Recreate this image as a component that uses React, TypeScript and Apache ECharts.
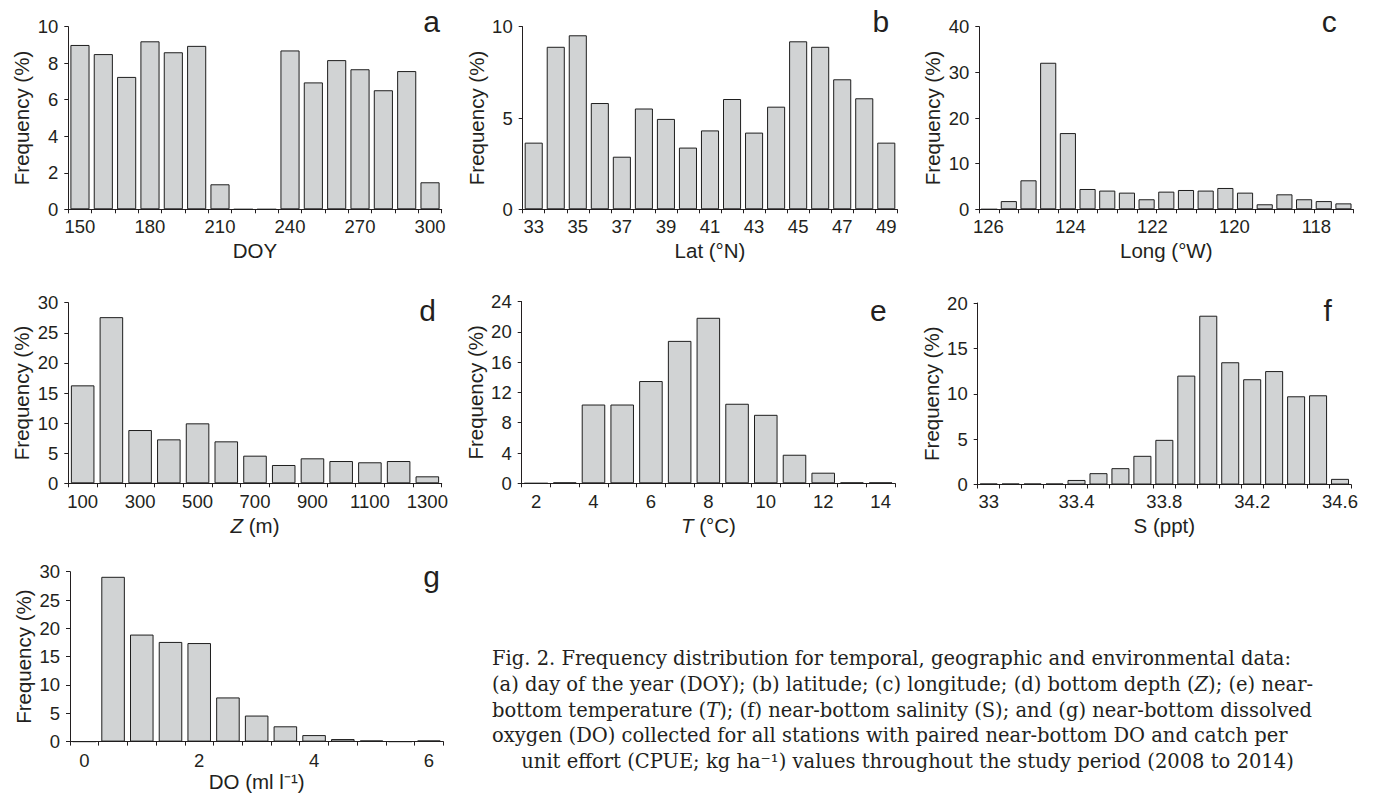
import { useEffect, useRef } from "react";
import * as echarts from "echarts";

// ---------- data ----------
const DOY_CATS = ["150", "160", "170", "180", "190", "200", "210", "220", "230", "240", "250", "260", "270", "280", "290", "300"];
const DOY_FREQ = [9.0, 8.5, 7.25, 9.2, 8.6, 8.95, 1.37, 0, 0, 8.7, 6.95, 8.17, 7.67, 6.52, 7.57, 1.48];

const LAT_CATS = ["33", "34", "35", "36", "37", "38", "39", "40", "41", "42", "43", "44", "45", "46", "47", "48", "49"];
const LAT_FREQ = [3.65, 8.9, 9.53, 5.82, 2.88, 5.52, 4.95, 3.38, 4.32, 6.04, 4.2, 5.62, 9.2, 8.9, 7.12, 6.08, 3.65];

const LONG_CATS = ["126", "125.5", "125", "124.5", "124", "123.5", "123", "122.5", "122", "121.5", "121", "120.5", "120", "119.5", "119", "118.5", "118", "117.5", "117"];
const LONG_FREQ = [0, 1.8, 6.35, 32.1, 16.7, 4.45, 4.1, 3.65, 2.2, 3.87, 4.23, 4.1, 4.67, 3.65, 1.1, 3.28, 2.2, 1.8, 1.3];
const LONG_TICKS = [126, 124, 122, 120, 118];

const DEPTH_CATS = ["100", "200", "300", "400", "500", "600", "700", "800", "900", "1000", "1100", "1200", "1300"];
const DEPTH_FREQ = [16.27, 27.6, 8.85, 7.3, 9.96, 6.97, 4.59, 3.04, 4.15, 3.7, 3.49, 3.7, 1.16];

const TEMP_CATS = ["2", "3", "4", "5", "6", "7", "8", "9", "10", "11", "12", "13", "14"];
const TEMP_FREQ = [0, 0.1, 10.4, 10.4, 13.5, 18.8, 21.85, 10.5, 9.04, 3.77, 1.4, 0.1, 0.1];

const SAL_CATS = ["33", "33.1", "33.2", "33.3", "33.4", "33.5", "33.6", "33.7", "33.8", "33.9", "34", "34.1", "34.2", "34.3", "34.4", "34.5", "34.6"];
const SAL_FREQ = [0.1, 0.1, 0.1, 0.1, 0.5, 1.25, 1.8, 3.16, 4.92, 12.0, 18.6, 13.47, 11.6, 12.5, 9.72, 9.83, 0.62];

const DO_CATS = ["0", "0.5", "1", "1.5", "2", "2.5", "3", "3.5", "4", "4.5", "5", "5.5", "6"];
const DO_FREQ = [0, 29.1, 18.9, 17.6, 17.4, 7.8, 4.6, 2.7, 1.15, 0.45, 0.2, 0, 0.2];

const CAPTION_LINES = [
  "Fig. 2. Frequency distribution for temporal, geographic and environmental data:",
  "(a) day of the year (DOY); (b) latitude; (c) longitude; (d) bottom depth ({i|Z}); (e) near-",
  "bottom temperature ({i|T}); (f) near-bottom salinity (S); and (g) near-bottom dissolved",
  "oxygen (DO) collected for all stations with paired near-bottom DO and catch per",
  "unit effort (CPUE; kg ha⁻¹) values throughout the study period (2008 to 2014)",
];

// ---------- style / layout ----------
const FONT = '"Liberation Sans", Arial, Helvetica, sans-serif';
const SERIF = '"DejaVu Serif", "Liberation Serif", serif';
const INK = "#231f20";
const BAR_FILL = "#d1d3d4";
const BAR_EDGE = "#1e1e1e";
const TICK_FS = 18.5;
const NAME_FS = 20.5;
const LETTER_FS = 30;
const CAP_FS = 19.5;

type Panel = {
  cats: string[];
  vals: number[];
  left: number;
  top: number;
  width: number;
  height: number;
  yMax: number;
  yInterval: number;
  labelInterval: number;
  name: string;
  nameGap: number;
  labelMargin: number;
  letter: string;
  lx: number;
  ly: number;
  customLabels?: boolean;
};

const PANELS: Panel[] = [
  { cats: DOY_CATS, vals: DOY_FREQ, left: 68.3, top: 26.7, width: 373.4, height: 182.6, yMax: 10, yInterval: 2, labelInterval: 2, name: "DOY", nameGap: 30.5, labelMargin: 8, letter: "a", lx: 431.7, ly: 21.3 },
  { cats: LAT_CATS, vals: LAT_FREQ, left: 522.7, top: 26.7, width: 374.6, height: 182.6, yMax: 10, yInterval: 5, labelInterval: 1, name: "Lat (°N)", nameGap: 30.5, labelMargin: 8, letter: "b", lx: 880.8, ly: 21.3 },
  { cats: LONG_CATS, vals: LONG_FREQ, left: 979.3, top: 26.7, width: 374, height: 182.6, yMax: 40, yInterval: 10, labelInterval: 0, name: "Long (°W)", nameGap: 30.5, labelMargin: 8, letter: "c", lx: 1329.3, ly: 21.3, customLabels: true },
  { cats: DEPTH_CATS, vals: DEPTH_FREQ, left: 68.3, top: 302.7, width: 373.4, height: 180.6, yMax: 30, yInterval: 5, labelInterval: 1, name: "{i|Z} (m)", nameGap: 31.5, labelMargin: 8.5, letter: "d", lx: 427.5, ly: 310.2 },
  { cats: TEMP_CATS, vals: TEMP_FREQ, left: 521.7, top: 301.5, width: 373.3, height: 181.8, yMax: 24, yInterval: 4, labelInterval: 1, name: "{i|T} (°C)", nameGap: 31.5, labelMargin: 8.5, letter: "e", lx: 878.3, ly: 310.2 },
  { cats: SAL_CATS, vals: SAL_FREQ, left: 977.7, top: 303, width: 373.3, height: 181.5, yMax: 20, yInterval: 5, labelInterval: 3, name: "S (ppt)", nameGap: 30, labelMargin: 7.5, letter: "f", lx: 1327.7, ly: 310.2 },
  { cats: DO_CATS, vals: DO_FREQ, left: 70, top: 571.7, width: 373.3, height: 173.3, yMax: 30, yInterval: 5, labelInterval: 3, name: "DO (ml l⁻¹)", nameGap: 27, labelMargin: 9.5, letter: "g", lx: 431.7, ly: 576.3 },
];

// value-axis extent (in degrees) spanned by the Long panel's plot area, used only to place its tick labels
const LONG_AXIS_MIN = 117.1;
const LONG_AXIS_MAX = 126.22;

const CAP_LEFT = 492;
const CAP_RIGHT = 1323;
const CAP_FIRST_Y = 658.5;
const CAP_STEP = 25.8;

function buildOption() {
  const nameStyle = {
    fontFamily: FONT,
    fontSize: NAME_FS,
    color: INK,
    rich: { i: { fontFamily: FONT, fontSize: NAME_FS, color: INK, fontStyle: "italic" } },
  };
  const grids: any[] = [];
  const xAxes: any[] = [];
  const yAxes: any[] = [];
  const series: any[] = [];
  const graphics: any[] = [];

  PANELS.forEach((p, i) => {
    grids.push({ left: p.left, top: p.top, width: p.width, height: p.height, containLabel: false });
    xAxes.push({
      type: "category",
      gridIndex: i,
      data: p.cats,
      boundaryGap: true,
      axisLine: { show: true, onZero: false, lineStyle: { color: INK, width: 1 } },
      axisTick: { show: true, interval: 0, alignWithLabel: false, length: 4, lineStyle: { color: INK, width: 1 } },
      axisLabel: {
        show: !p.customLabels,
        interval: p.labelInterval,
        fontFamily: FONT,
        fontSize: TICK_FS,
        color: INK,
        margin: p.labelMargin,
      },
      splitLine: { show: false },
      name: p.name,
      nameLocation: "middle",
      nameGap: p.nameGap,
      nameTextStyle: nameStyle,
    });
    yAxes.push({
      type: "value",
      gridIndex: i,
      min: 0,
      max: p.yMax,
      interval: p.yInterval,
      axisLine: { show: true, lineStyle: { color: INK, width: 1 } },
      axisTick: { show: true, length: 4, lineStyle: { color: INK, width: 1 } },
      axisLabel: { fontFamily: FONT, fontSize: TICK_FS, color: INK, margin: 10 },
      splitLine: { show: false },
      name: "Frequency (%)",
      nameLocation: "middle",
      nameGap: 36,
      nameTextStyle: { fontFamily: FONT, fontSize: NAME_FS, color: INK },
    });
    series.push({
      type: "bar",
      xAxisIndex: i,
      yAxisIndex: i,
      data: p.vals,
      barCategoryGap: "18%",
      silent: true,
      itemStyle: { color: BAR_FILL, borderColor: BAR_EDGE, borderWidth: 1 },
    });
    graphics.push({
      type: "text",
      x: p.lx,
      y: p.ly,
      style: {
        text: p.letter,
        fontFamily: FONT,
        fontSize: LETTER_FS,
        fill: INK,
        align: "center",
        textAlign: "center",
        verticalAlign: "middle",
        textVerticalAlign: "middle",
      },
    });
  });

  // overlay value axis that carries the longitude tick labels
  const longIdx = PANELS.findIndex((p) => p.customLabels);
  xAxes.push({
    type: "value",
    gridIndex: longIdx,
    position: "bottom",
    min: LONG_AXIS_MIN,
    max: LONG_AXIS_MAX,
    inverse: true,
    axisLine: { show: false },
    axisTick: { show: false },
    splitLine: { show: false },
    axisLabel: {
      customValues: LONG_TICKS,
      fontFamily: FONT,
      fontSize: TICK_FS,
      color: INK,
      margin: PANELS[longIdx].labelMargin,
    },
  });

  const capRich = { i: { fontFamily: SERIF, fontSize: CAP_FS, fill: INK, color: INK, fontStyle: "italic" } };
  CAPTION_LINES.forEach((line, k) => {
    const last = k === CAPTION_LINES.length - 1;
    graphics.push({
      type: "text",
      x: last ? (CAP_LEFT + CAP_RIGHT) / 2 : CAP_LEFT,
      y: CAP_FIRST_Y + k * CAP_STEP,
      style: {
        text: line,
        fontFamily: SERIF,
        fontSize: CAP_FS,
        fill: INK,
        align: last ? "center" : "left",
        textAlign: last ? "center" : "left",
        verticalAlign: "middle",
        textVerticalAlign: "middle",
        rich: capRich,
      },
    });
  });

  return {
    animation: false,
    backgroundColor: "#ffffff",
    grid: grids,
    xAxis: xAxes,
    yAxis: yAxes,
    series,
    graphic: graphics,
  };
}

export default function App() {
  const ref = useRef<HTMLDivElement>(null);
  useEffect(() => {
    document.body.style.margin = "0";
    document.body.style.overflow = "hidden";
    const chart = echarts.init(ref.current as HTMLDivElement, null, { renderer: "svg" });
    chart.setOption(buildOption() as any);
    return () => {
      chart.dispose();
    };
  }, []);
  return <div ref={ref} style={{ width: 1376, height: 793 }} />;
}
